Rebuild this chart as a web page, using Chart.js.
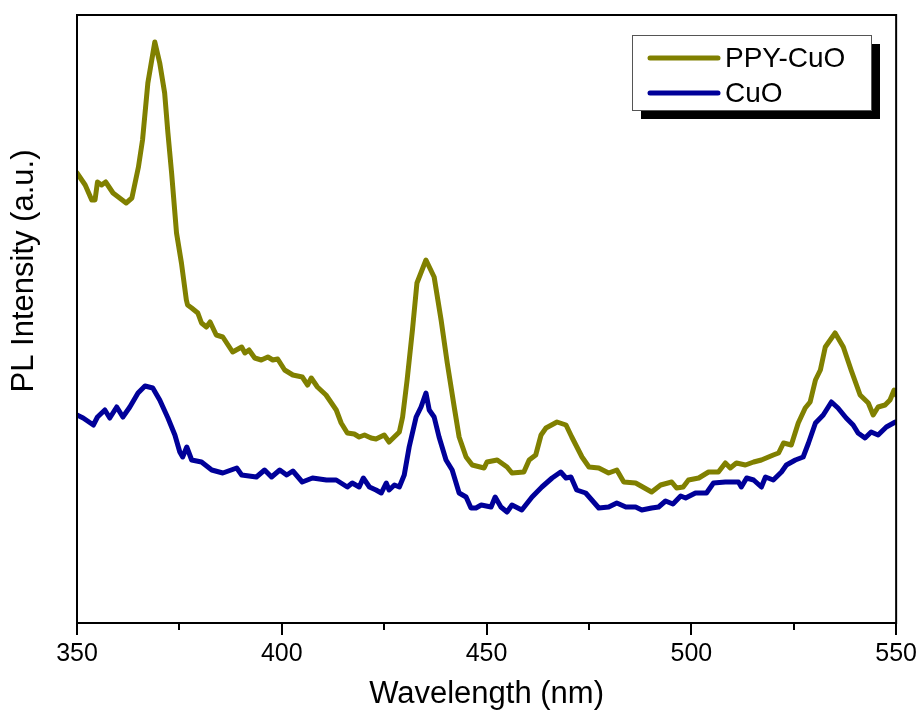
<!DOCTYPE html>
<html>
<head>
<meta charset="utf-8">
<script src="https://cdn.jsdelivr.net/npm/chart.js@4.4.1/dist/chart.umd.min.js"></script>
<style>
  html, body { margin: 0; padding: 0; background: #fff; }
  #wrap { width: 921px; height: 718px; }
</style>
</head>
<body>
<div id="wrap"><canvas id="c" width="921" height="718"></canvas></div>
<script>
// ---- data (intensity in arbitrary units) ----
const seriesNames = ["PPY-CuO", "CuO"];
const xTickValues = [350, 400, 450, 500, 550];
const xTitle = "Wavelength (nm)";
const yTitle = "PL Intensity (a.u.)";

const ppyWavelength = [350.0,352.0,353.6,354.4,355.0,356.0,357.0,358.8,362.0,363.4,365.0,366.0,367.3,369.0,370.2,371.4,372.2,373.1,374.3,375.5,376.7,377.0,378.0,379.5,380.4,381.6,382.5,384.0,385.6,388.0,390.2,391.0,392.0,393.4,395.0,396.6,397.8,399.0,400.7,402.7,405.0,406.3,407.2,408.7,410.8,413.3,414.5,416.0,417.7,418.9,420.2,421.8,423.0,425.0,426.2,428.7,429.5,430.6,431.9,433.0,435.2,437.2,438.9,440.4,442.1,443.3,445.0,446.5,449.4,450.1,452.6,455.0,456.2,459.1,460.4,462.0,463.3,464.5,467.2,469.4,470.8,473.3,475.0,477.4,479.8,481.8,483.5,486.4,490.3,492.5,495.2,496.4,498.0,499.3,501.8,504.2,506.6,508.3,509.5,511.0,513.2,515.2,517.1,520.0,521.3,522.5,524.4,526.1,527.8,529.0,530.3,531.5,532.7,535.1,537.1,539.0,541.2,543.2,544.4,545.6,547.3,548.5,549.5,550.0];
const ppyIntensity = [450,438,423,423,441,438,441,430,420,425,456,483,540,581,560,530,490,450,390,360,323,318,315,310,300,296,301,288,286,271,276,270,273,265,263,266,263,264,253,248,246,238,245,236,228,213,200,190,189,186,188,185,184,188,181,191,206,243,293,340,363,346,303,260,216,186,166,158,155,161,163,156,150,151,163,168,188,195,201,198,186,166,156,155,150,153,141,140,131,138,141,135,136,143,145,151,151,160,155,160,158,161,163,168,170,180,178,200,215,221,243,253,276,290,276,253,228,220,208,216,218,223,233,228];

const cuoWavelength = [350.0,351.5,354.0,355.0,356.8,358.0,359.7,361.2,362.9,364.9,366.6,368.5,370.2,372.2,373.9,375.1,375.8,376.8,378.0,380.4,382.9,385.6,389.0,390.2,393.8,395.8,397.5,399.5,401.2,402.7,405.0,407.5,410.9,413.3,416.0,417.2,418.9,419.9,421.4,423.0,424.3,425.5,426.2,427.5,428.7,429.9,431.1,432.8,434.0,435.2,436.0,437.2,438.4,440.1,441.6,443.3,445.0,446.2,447.4,448.7,451.1,452.1,453.5,455.0,456.2,458.6,461.1,463.5,466.0,468.1,469.4,470.6,472.0,474.2,475.7,477.4,479.8,481.8,484.0,486.4,487.9,490.3,492.0,493.7,495.5,497.4,498.6,501.0,503.7,505.4,508.3,511.5,512.2,513.5,515.2,517.1,518.1,520.0,522.0,523.2,525.4,527.3,528.6,530.3,532.2,534.2,535.8,537.8,539.5,540.7,542.4,543.9,545.6,547.6,549.8,550.0];
const cuoIntensity = [208,205,198,206,213,205,216,206,216,230,237,235,223,205,188,171,166,176,163,161,153,150,155,148,146,153,146,153,148,152,141,145,143,143,136,140,136,145,136,133,130,140,133,138,136,148,176,206,216,230,213,206,186,163,153,130,126,115,115,118,116,126,116,111,118,113,126,136,145,151,145,146,133,130,123,115,116,120,116,116,113,115,116,122,119,127,125,130,130,140,141,141,136,145,143,136,146,143,151,158,163,166,180,200,208,221,215,205,198,190,185,191,188,196,201,201];

const seriesColors = ["#808000", "#000099"];

// ---- build datasets ----
function toPoints(xs, ys) { return xs.map((x, i) => ({ x: x, y: ys[i] })); }
const datasets = [
  { label: seriesNames[0], data: toPoints(ppyWavelength, ppyIntensity) },
  { label: seriesNames[1], data: toPoints(cuoWavelength, cuoIntensity) }
].map((d, i) => Object.assign(d, {
  borderColor: seriesColors[i], backgroundColor: seriesColors[i],
  borderWidth: 5, pointRadius: 0, tension: 0, fill: false,
  borderJoinStyle: 'round', borderCapStyle: 'round'
}));

const FONT = '"Liberation Sans", Arial, Helvetica, sans-serif';

// frame, minor ticks, y title, legend
const framePlugin = {
  id: 'frame',
  afterDraw(chart) {
    const { ctx, chartArea: a, scales } = chart;
    ctx.save();
    ctx.strokeStyle = '#000';
    ctx.lineWidth = 2;
    ctx.strokeRect(a.left, a.top, a.right - a.left, a.bottom - a.top);
    // minor ticks halfway between major ticks
    const xs = scales.x;
    ctx.beginPath();
    for (let i = 0; i < xTickValues.length - 1; i++) {
      const v = (xTickValues[i] + xTickValues[i + 1]) / 2;
      const px = Math.round(xs.getPixelForValue(v));
      ctx.moveTo(px, a.bottom);
      ctx.lineTo(px, a.bottom + 7);
    }
    ctx.stroke();

    // y axis title
    ctx.save();
    ctx.translate(24, 271);
    ctx.rotate(-Math.PI / 2);
    ctx.font = '31px ' + FONT;
    ctx.fillStyle = '#000';
    ctx.textAlign = 'center';
    ctx.textBaseline = 'middle';
    ctx.fillText(yTitle, 0, 0);
    ctx.restore();

    // legend with drop shadow
    const bx = 632, by = 35, bw = 239, bh = 75, sh = 9;
    ctx.fillStyle = '#000';
    ctx.fillRect(bx + sh, by + sh, bw, bh);
    ctx.fillStyle = '#fff';
    ctx.fillRect(bx, by, bw, bh);
    ctx.lineWidth = 1;
    ctx.strokeStyle = '#555';
    ctx.strokeRect(bx + 0.5, by + 0.5, bw, bh);
    ctx.font = '28px ' + FONT;
    ctx.textBaseline = 'middle';
    ctx.textAlign = 'left';
    chart.data.datasets.forEach((ds, i) => {
      const y = by + 23 + i * 35;
      ctx.strokeStyle = ds.borderColor;
      ctx.lineWidth = 5;
      ctx.lineCap = 'round';
      ctx.beginPath();
      ctx.moveTo(bx + 18, y);
      ctx.lineTo(bx + 86, y);
      ctx.stroke();
      ctx.fillStyle = '#000';
      ctx.fillText(ds.label, bx + 93, y + 1);
    });
    ctx.restore();
  }
};

new Chart(document.getElementById('c'), {
  type: 'line',
  data: { datasets },
  plugins: [framePlugin],
  options: {
    responsive: false,
    animation: false,
    devicePixelRatio: 1,
    layout: { padding: { top: 15, right: 22, left: 0, bottom: 0 } },
    plugins: { legend: { display: false }, tooltip: { enabled: false } },
    scales: {
      x: {
        type: 'linear',
        min: 350, max: 550,
        afterBuildTicks(scale) { scale.ticks = xTickValues.map(v => ({ value: v })); },
        afterFit(scale) { scale.height = 95; },
        grid: { drawOnChartArea: false, drawTicks: true, tickLength: 12, color: '#000', lineWidth: 2 },
        border: { display: true, color: '#000', width: 2 },
        ticks: { color: '#000', font: { size: 25, family: FONT }, padding: 4, maxRotation: 0, autoSkip: false },
        title: { display: true, text: xTitle, color: '#000', font: { size: 31, family: FONT }, padding: { top: 0, bottom: 5 } }
      },
      y: {
        type: 'linear',
        min: 0, max: 608,
        afterFit(scale) { scale.width = 77; },
        grid: { display: false },
        border: { display: true, color: '#000', width: 2 },
        ticks: { display: false },
        title: { display: false }
      }
    }
  }
});
</script>
</body>
</html>
